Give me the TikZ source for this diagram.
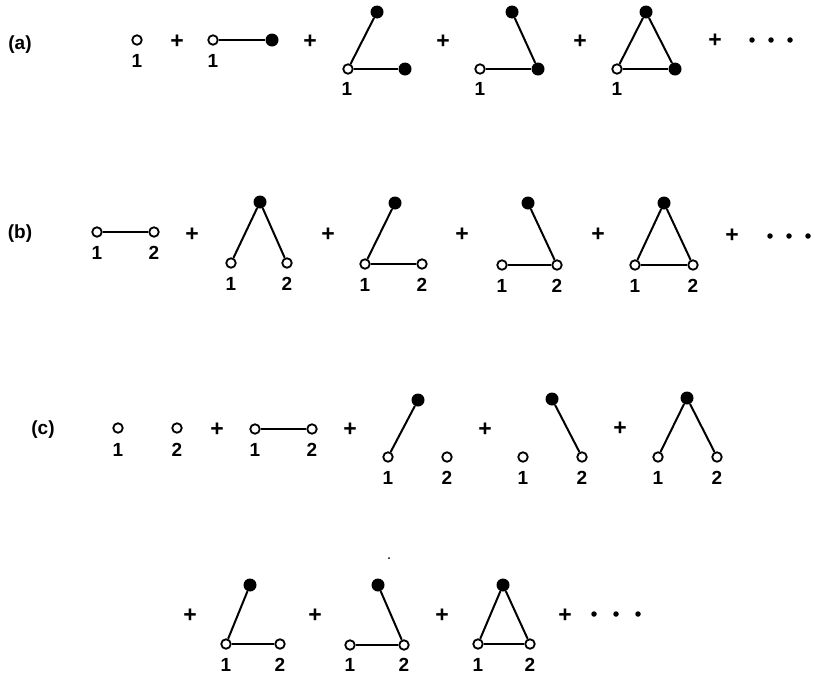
\documentclass[tikz,border=0pt]{standalone}
\usepackage{fontspec}
\setmainfont{Liberation Sans}
\begin{document}
\begin{tikzpicture}[x=1pt,y=-1pt,
  op/.style={circle,draw,fill=white,line width=1.8pt,inner sep=0pt,minimum size=9.5pt},
  fl/.style={circle,fill=black,inner sep=0pt,minimum size=13pt},
  dt/.style={circle,fill=black,inner sep=0pt,minimum size=5.5pt},
  ed/.style={line width=2pt},
  lab/.style={inner sep=0pt,font=\bfseries\fontsize{19}{22}\selectfont},
  pl/.style={inner sep=0pt,font=\bfseries\fontsize{23}{25}\selectfont},
  tag/.style={inner sep=0pt,font=\bfseries\fontsize{19}{22}\selectfont}]
\useasboundingbox (0,0) rectangle (816,675);
% ---------------- row (a)
\node[tag] (ta) at (20,45) {(a)};
\node[op] (a1) at (137,40) {}; \node[lab] (a1l) at (137,61) {1};
\node[pl] (ap1) at (177,42) {+};
\node[op] (a2o) at (213,40) {}; \node[fl] (a2f) at (272,40) {}; \node[lab] (a2l) at (213,61) {1};
\draw[ed] (a2o) -- (a2f);
\node[pl] (ap2) at (310,42) {+};
\node[op] (a3o) at (348,69) {}; \node[fl] (a3t) at (377,12) {}; \node[fl] (a3r) at (405,69) {};
\node[lab] (a3l) at (347,89) {1};
\draw[ed] (a3o) -- (a3t); \draw[ed] (a3o) -- (a3r);
\node[pl] (ap3) at (443,42) {+};
\node[op] (a4o) at (480,69) {}; \node[fl] (a4t) at (512,12) {}; \node[fl] (a4r) at (538,69) {};
\node[lab] (a4l) at (480,89) {1};
\draw[ed] (a4o) -- (a4r); \draw[ed] (a4t) -- (a4r);
\node[pl] (ap4) at (580,42) {+};
\node[op] (a5o) at (617,69) {}; \node[fl] (a5t) at (646,12) {}; \node[fl] (a5r) at (675,69) {};
\node[lab] (a5l) at (617,89) {1};
\draw[ed] (a5o) -- (a5t); \draw[ed] (a5o) -- (a5r); \draw[ed] (a5t) -- (a5r);
\node[pl] (ap5) at (715,41) {+};
\node[dt] (ad1) at (752,40) {}; \node[dt] (ad2) at (771,40) {}; \node[dt] (ad3) at (790,40) {};
% ---------------- row (b)
\node[tag] (tb) at (20,234) {(b)};
\node[op] (b1a) at (97,232) {}; \node[op] (b1b) at (154,232) {};
\node[lab] (b1al) at (97,253) {1}; \node[lab] (b1bl) at (154,253) {2};
\draw[ed] (b1a) -- (b1b);
\node[pl] (bp1) at (192,235) {+};
\node[fl] (b2t) at (260,202) {}; \node[op] (b2a) at (231,263) {}; \node[op] (b2b) at (287,263) {};
\node[lab] (b2al) at (231,284) {1}; \node[lab] (b2bl) at (287,284) {2};
\draw[ed] (b2t) -- (b2a); \draw[ed] (b2t) -- (b2b);
\node[pl] (bp2) at (328,235) {+};
\node[fl] (b3t) at (395,203) {}; \node[op] (b3a) at (365,264) {}; \node[op] (b3b) at (422,264) {};
\node[lab] (b3al) at (365,285) {1}; \node[lab] (b3bl) at (422,285) {2};
\draw[ed] (b3t) -- (b3a); \draw[ed] (b3a) -- (b3b);
\node[pl] (bp3) at (462,235) {+};
\node[fl] (b4t) at (528,203) {}; \node[op] (b4a) at (502,265) {}; \node[op] (b4b) at (557,265) {};
\node[lab] (b4al) at (502,286) {1}; \node[lab] (b4bl) at (557,286) {2};
\draw[ed] (b4t) -- (b4b); \draw[ed] (b4a) -- (b4b);
\node[pl] (bp4) at (598,235) {+};
\node[fl] (b5t) at (664,203) {}; \node[op] (b5a) at (635,265) {}; \node[op] (b5b) at (693,265) {};
\node[lab] (b5al) at (635,286) {1}; \node[lab] (b5bl) at (693,286) {2};
\draw[ed] (b5t) -- (b5a); \draw[ed] (b5t) -- (b5b); \draw[ed] (b5a) -- (b5b);
\node[pl] (bp5) at (732,236) {+};
\node[dt] (bd1) at (770,236) {}; \node[dt] (bd2) at (789,236) {}; \node[dt] (bd3) at (808,236) {};
% ---------------- row (c)
\node[tag] (tc) at (43,430) {(c)};
\node[op] (c1a) at (118,428) {}; \node[op] (c1b) at (177,428) {};
\node[lab] (c1al) at (118,450) {1}; \node[lab] (c1bl) at (177,450) {2};
\node[pl] (cp1) at (217,430) {+};
\node[op] (c2a) at (255,429) {}; \node[op] (c2b) at (312,429) {};
\node[lab] (c2al) at (255,450) {1}; \node[lab] (c2bl) at (312,450) {2};
\draw[ed] (c2a) -- (c2b);
\node[pl] (cp2) at (350,430) {+};
\node[fl] (c3t) at (418,400) {}; \node[op] (c3a) at (388,457) {}; \node[op] (c3b) at (447,457) {};
\node[lab] (c3al) at (388,478) {1}; \node[lab] (c3bl) at (447,478) {2};
\draw[ed] (c3t) -- (c3a);
\node[pl] (cp3) at (485,430) {+};
\node[fl] (c4t) at (552,399) {}; \node[op] (c4a) at (523,457) {}; \node[op] (c4b) at (582,457) {};
\node[lab] (c4al) at (523,478) {1}; \node[lab] (c4bl) at (582,478) {2};
\draw[ed] (c4t) -- (c4b);
\node[pl] (cp4) at (620,429) {+};
\node[fl] (c5t) at (687,398) {}; \node[op] (c5a) at (658,457) {}; \node[op] (c5b) at (717,457) {};
\node[lab] (c5al) at (658,478) {1}; \node[lab] (c5bl) at (717,478) {2};
\draw[ed] (c5t) -- (c5a); \draw[ed] (c5t) -- (c5b);
% ---------------- row (c), continued
\node[pl] (dp1) at (190,616) {+};
\node[fl] (d1t) at (250,585) {}; \node[op] (d1a) at (226,644) {}; \node[op] (d1b) at (280,644) {};
\node[lab] (d1al) at (226,665) {1}; \node[lab] (d1bl) at (280,665) {2};
\draw[ed] (d1t) -- (d1a); \draw[ed] (d1a) -- (d1b);
\node[pl] (dp2) at (315,616) {+};
\node[fl] (d2t) at (378,585) {}; \node[op] (d2a) at (350,645) {}; \node[op] (d2b) at (404,645) {};
\node[lab] (d2al) at (350,665) {1}; \node[lab] (d2bl) at (404,665) {2};
\draw[ed] (d2t) -- (d2b); \draw[ed] (d2a) -- (d2b);
\node[circle,fill=black,inner sep=0pt,minimum size=2pt] (speck) at (389,558) {};
\node[pl] (dp3) at (442,616) {+};
\node[fl] (d3t) at (503,585) {}; \node[op] (d3a) at (478,644) {}; \node[op] (d3b) at (530,644) {};
\node[lab] (d3al) at (478,665) {1}; \node[lab] (d3bl) at (530,665) {2};
\draw[ed] (d3t) -- (d3a); \draw[ed] (d3t) -- (d3b); \draw[ed] (d3a) -- (d3b);
\node[pl] (dp4) at (565,616) {+};
\node[dt] (dd1) at (594,614) {}; \node[dt] (dd2) at (616,614) {}; \node[dt] (dd3) at (638,614) {};
\end{tikzpicture}
\end{document}
